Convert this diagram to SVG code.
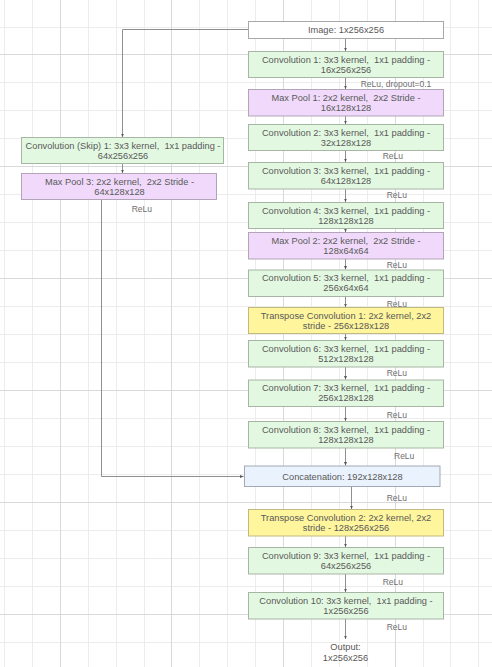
<svg xmlns="http://www.w3.org/2000/svg" width="492" height="667" viewBox="0 0 492 667">
<style>
.bg{fill:#ffffff}
.gmin{stroke:#ececec;stroke-width:1;fill:none}
.gmaj{stroke:#d9d9d9;stroke-width:1;fill:none}
.box{stroke-width:1}
.white{fill:#ffffff;stroke:#a8a8a8}
.green{fill:#e3f8e1;stroke:#a6b5a4}
.purple{fill:#f0d9fa;stroke:#b3a5b8}
.yellow{fill:#fff59d;stroke:#c2b97e}
.blue{fill:#eaf2fd;stroke:#a0a9b5}
.t{font-family:"Liberation Sans",Arial,sans-serif;font-size:9.25px;fill:#595959;text-anchor:middle}
.lbl{font-family:"Liberation Sans",Arial,sans-serif;font-size:8.5px;fill:#6e6e6e}
.edge{stroke:#8f8f8f;stroke-width:1;fill:none}
.arr{marker-end:url(#ah)}
</style>
<defs>
<marker id="ah" markerUnits="userSpaceOnUse" markerWidth="4" markerHeight="4" refX="3.5" refY="2" orient="auto">
<path d="M0,0.5 L3.5,2 L0,3.5 Z" fill="#555"/>
</marker>
</defs>
<rect class="bg" x="0" y="0" width="492" height="667"/>
<g id="grid">
<path class="gmin" d="M4.5 0V667M32.5 0V667M88.5 0V667M116.5 0V667M144.5 0V667M199.5 0V667M227.5 0V667M255.5 0V667M311.5 0V667M339.5 0V667M367.5 0V667M423.5 0V667M450.5 0V667M478.5 0V667M0 27.5H492M0 82.5H492M0 110.5H492M0 138.5H492M0 194.5H492M0 222.5H492M0 250.5H492M0 306.5H492M0 334.5H492M0 362.5H492M0 418.5H492M0 446.5H492M0 474.5H492M0 530.5H492M0 558.5H492M0 586.5H492M0 642.5H492"/>
<path class="gmaj" d="M60.5 0V667M171.5 0V667M283.5 0V667M395.5 0V667M0 54.5H492M0 166.5H492M0 278.5H492M0 390.5H492M0 502.5H492M0 614.5H492"/>
</g>
<g id="connectors">
<path class="edge arr" d="M345.5 38.5V51"/>
<path class="edge arr" d="M345.5 77.5V89"/>
<path class="edge arr" d="M345.5 116V124"/>
<path class="edge arr" d="M345.5 150.5V162"/>
<path class="edge arr" d="M345.5 189V202"/>
<path class="edge arr" d="M345.5 228.5V232"/>
<path class="edge arr" d="M345.5 259V269.5"/>
<path class="edge arr" d="M345.5 296.5V307"/>
<path class="edge arr" d="M345.5 333.5V340"/>
<path class="edge arr" d="M345.5 367V379.5"/>
<path class="edge arr" d="M345.5 406.5V421"/>
<path class="edge arr" d="M345.5 448V465.5"/>
<path class="edge arr" d="M351.5 486.5V509"/>
<path class="edge arr" d="M345.5 536V547"/>
<path class="edge arr" d="M345.5 574V592"/>
<path class="edge arr" d="M345.5 619V639"/>
<path class="edge arr" d="M248 29.5H122.5V137"/>
<path class="edge arr" d="M122.5 163.5V173"/>
<path class="edge arr" d="M101.5 199.5V476.5H243.5"/>
<text class="lbl" x="360.7" y="86.5">ReLu, dropout=0.1</text>
<text class="lbl" x="382.7" y="159.3">ReLu</text>
<text class="lbl" x="386.7" y="198">ReLu</text>
<text class="lbl" x="386.7" y="268.3">ReLu</text>
<text class="lbl" x="386.7" y="306.6">ReLu</text>
<text class="lbl" x="386.7" y="376">ReLu</text>
<text class="lbl" x="386.7" y="417.6">ReLu</text>
<text class="lbl" x="394" y="459.3">ReLu</text>
<text class="lbl" x="386.7" y="501">ReLu</text>
<text class="lbl" x="382.7" y="585">ReLu</text>
<text class="lbl" x="386.7" y="630">ReLu</text>
<text class="lbl" x="131.7" y="212.3">ReLu</text>
</g>
<g id="image">
<rect class="box white" x="248.5" y="21.5" width="195" height="17"/>
<text class="t" x="346" y="33.2">Image: 1x256x256</text>
</g>
<g id="conv1">
<rect class="box green" x="248.5" y="51.5" width="195" height="26"/>
<text class="t" x="346" y="62.6" xml:space="preserve">Convolution 1: 3x3 kernel,  1x1 padding -</text>
<text class="t" x="346" y="72.6">16x256x256</text>
</g>
<g id="maxpool1">
<rect class="box purple" x="248.5" y="89.5" width="195" height="26.5"/>
<text class="t" x="346" y="100.8" xml:space="preserve">Max Pool 1: 2x2 kernel,  2x2 Stride -</text>
<text class="t" x="346" y="110.8">16x128x128</text>
</g>
<g id="conv2">
<rect class="box green" x="248.5" y="124.5" width="195" height="26"/>
<text class="t" x="346" y="135.8" xml:space="preserve">Convolution 2: 3x3 kernel,  1x1 padding -</text>
<text class="t" x="346" y="145.8">32x128x128</text>
</g>
<g id="conv3">
<rect class="box green" x="248.5" y="162.5" width="195" height="26.5"/>
<text class="t" x="346" y="173.8" xml:space="preserve">Convolution 3: 3x3 kernel,  1x1 padding -</text>
<text class="t" x="346" y="183.8">64x128x128</text>
</g>
<g id="conv4">
<rect class="box green" x="248.5" y="202.5" width="195" height="26"/>
<text class="t" x="346" y="213.8" xml:space="preserve">Convolution 4: 3x3 kernel,  1x1 padding -</text>
<text class="t" x="346" y="223.8">128x128x128</text>
</g>
<g id="maxpool2">
<rect class="box purple" x="248.5" y="232.5" width="195" height="26.5"/>
<text class="t" x="346" y="243.8" xml:space="preserve">Max Pool 2: 2x2 kernel,  2x2 Stride -</text>
<text class="t" x="346" y="253.8">128x64x64</text>
</g>
<g id="conv5">
<rect class="box green" x="248.5" y="270" width="195" height="26.5"/>
<text class="t" x="346" y="281.3" xml:space="preserve">Convolution 5: 3x3 kernel,  1x1 padding -</text>
<text class="t" x="346" y="291.3">256x64x64</text>
</g>
<g id="tconv1">
<rect class="box yellow" x="248.5" y="307.5" width="195" height="26"/>
<text class="t" x="346" y="318.8">Transpose Convolution 1: 2x2 kernel, 2x2</text>
<text class="t" x="346" y="328.8">stride - 256x128x128</text>
</g>
<g id="conv6">
<rect class="box green" x="248.5" y="340.5" width="195" height="26.5"/>
<text class="t" x="346" y="351.8" xml:space="preserve">Convolution 6: 3x3 kernel,  1x1 padding -</text>
<text class="t" x="346" y="361.8">512x128x128</text>
</g>
<g id="conv7">
<rect class="box green" x="248.5" y="380" width="195" height="26.5"/>
<text class="t" x="346" y="391.3" xml:space="preserve">Convolution 7: 3x3 kernel,  1x1 padding -</text>
<text class="t" x="346" y="401.3">256x128x128</text>
</g>
<g id="conv8">
<rect class="box green" x="248.5" y="421.5" width="195" height="26.5"/>
<text class="t" x="346" y="432.8" xml:space="preserve">Convolution 8: 3x3 kernel,  1x1 padding -</text>
<text class="t" x="346" y="442.8">128x128x128</text>
</g>
<g id="concat">
<rect class="box blue" x="244.5" y="466" width="195.5" height="20.5"/>
<text class="t" x="342.5" y="479.5">Concatenation: 192x128x128</text>
</g>
<g id="tconv2">
<rect class="box yellow" x="248.5" y="509.5" width="195" height="26.5"/>
<text class="t" x="346" y="520.8">Transpose Convolution 2: 2x2 kernel, 2x2</text>
<text class="t" x="346" y="530.8">stride - 128x256x256</text>
</g>
<g id="conv9">
<rect class="box green" x="248.5" y="547.5" width="195" height="26.5"/>
<text class="t" x="346" y="558.8" xml:space="preserve">Convolution 9: 3x3 kernel,  1x1 padding -</text>
<text class="t" x="346" y="568.8">64x256x256</text>
</g>
<g id="conv10">
<rect class="box green" x="248.5" y="592.5" width="195" height="26.5"/>
<text class="t" x="346" y="603.8" xml:space="preserve">Convolution 10: 3x3 kernel,  1x1 padding -</text>
<text class="t" x="346" y="613.8">1x256x256</text>
</g>
<g id="output">
<text class="t" x="345.5" y="650">Output:</text>
<text class="t" x="345.5" y="661">1x256x256</text>
</g>
<g id="conv_skip">
<rect class="box green" x="21.5" y="137.5" width="202" height="26"/>
<text class="t" x="123" y="148.5" xml:space="preserve">Convolution (Skip) 1: 3x3 kernel,  1x1 padding -</text>
<text class="t" x="123" y="159">64x256x256</text>
</g>
<g id="maxpool3">
<rect class="box purple" x="21.5" y="173.5" width="195" height="26"/>
<text class="t" x="119.5" y="184.6" xml:space="preserve">Max Pool 3: 2x2 kernel,  2x2 Stride -</text>
<text class="t" x="119.5" y="195">64x128x128</text>
</g>
</svg>
